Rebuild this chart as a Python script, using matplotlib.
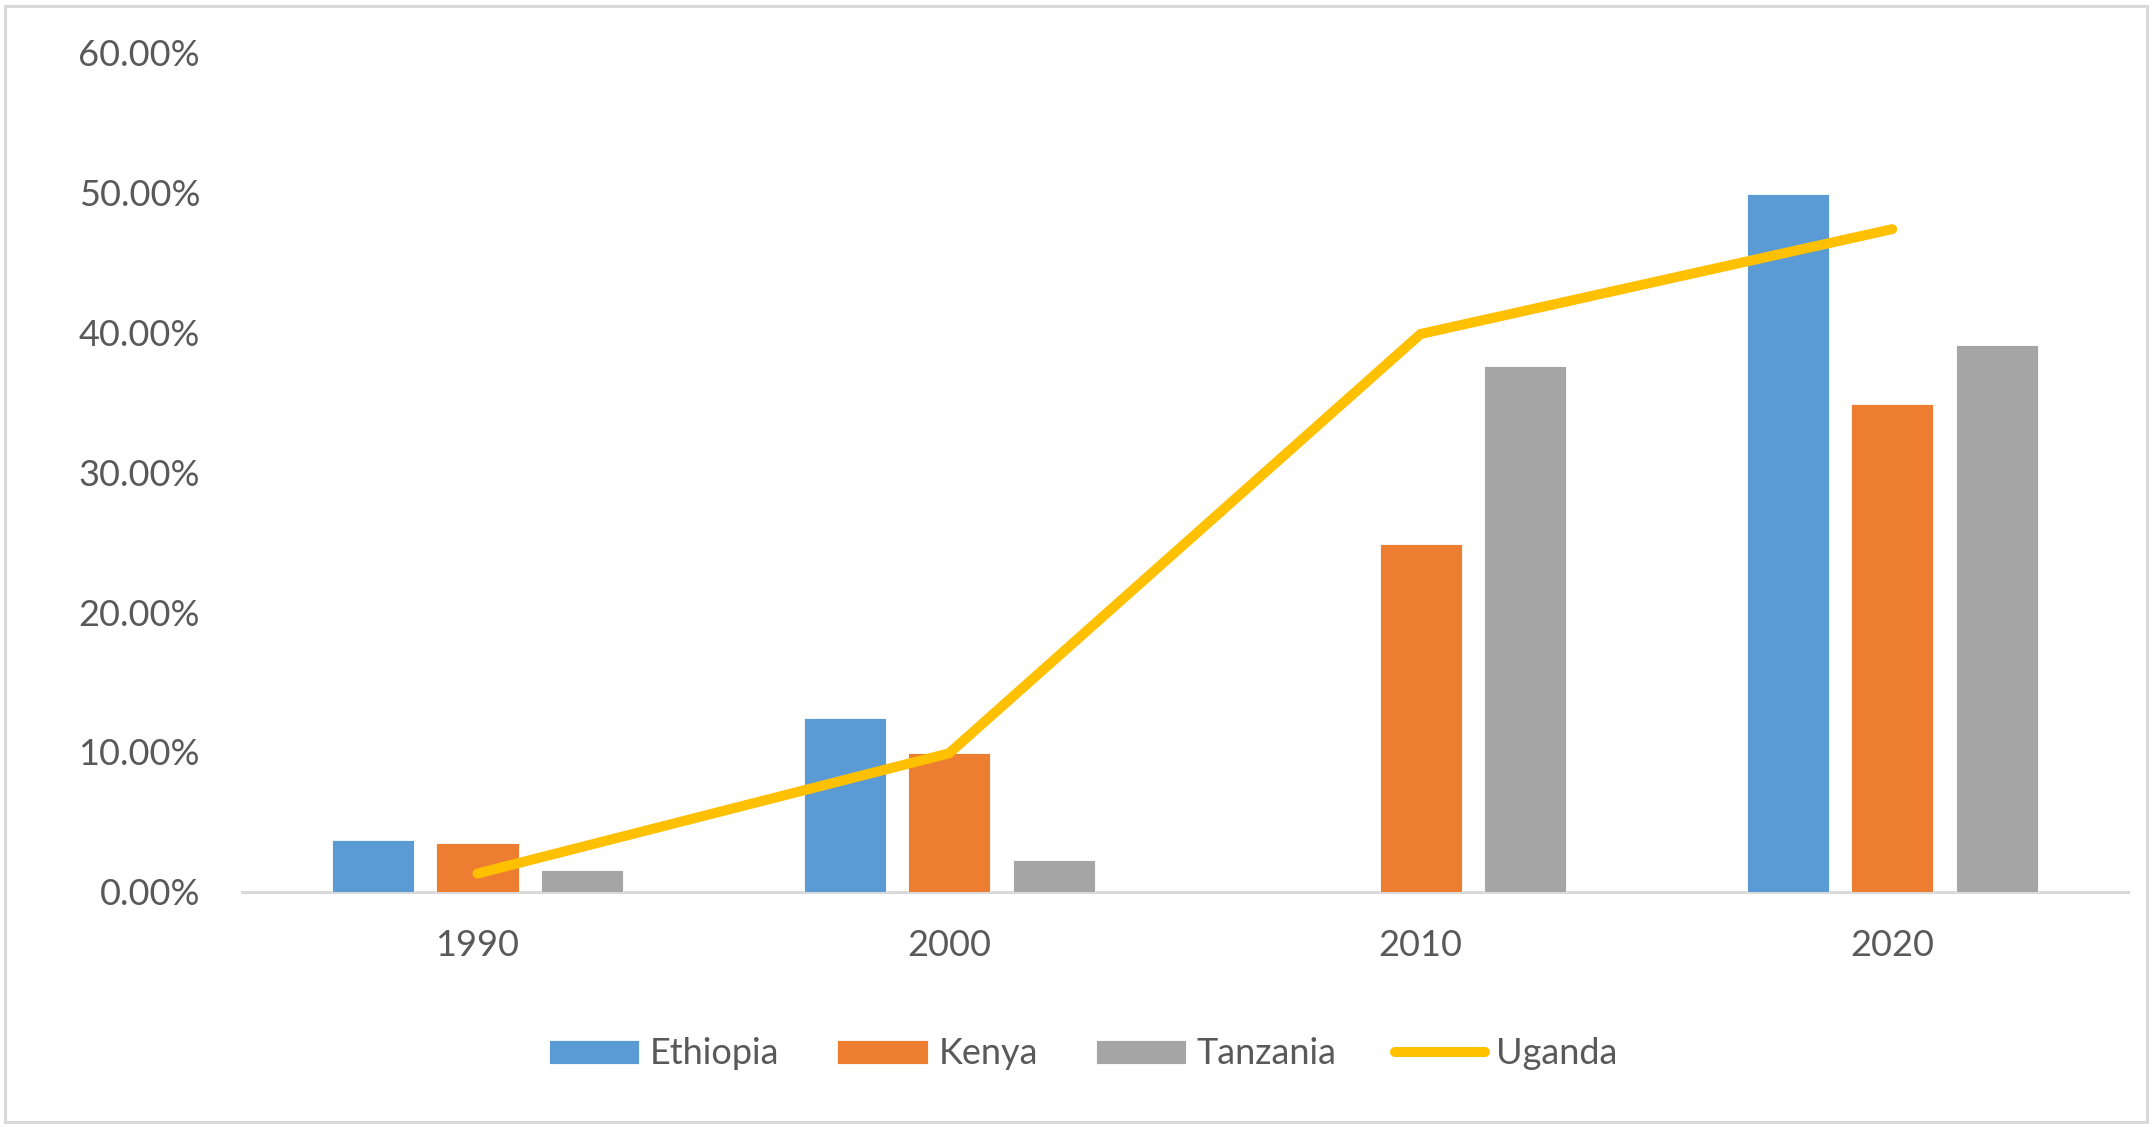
import matplotlib
matplotlib.use("Agg")
import matplotlib.pyplot as plt
from matplotlib.patches import Rectangle
from matplotlib.ticker import FuncFormatter, MultipleLocator
import numpy as np

years = ["1990", "2000", "2010", "2020"]
ethiopia = [0.037, 0.124, 0.0, 0.499]
kenya = [0.0346, 0.0992, 0.249, 0.349]
tanzania = [0.0153, 0.0225, 0.376, 0.391]
uganda = [0.013, 0.099, 0.399, 0.474]

bar_series = [("Ethiopia", ethiopia, "#5B9BD5"),
              ("Kenya", kenya, "#ED7D31"),
              ("Tanzania", tanzania, "#A5A5A5")]
line_name, line_color = "Uganda", "#FFC000"

plt.rcParams['font.family'] = ['Lato', 'DejaVu Sans']
text_color = "#595959"

W, H = 2154, 1127
fig = plt.figure(figsize=(W / 100, H / 100), dpi=100)
ax = fig.add_axes([241.7 / W, 1 - 891.7 / H, (2128 - 241.7) / W, (891.7 - 53) / H])

x = np.arange(len(years))
bw = 0.174
off = 0.2216
handles = []
for i, (name, vals, col) in enumerate(bar_series):
    h = ax.bar(x + (i - 1) * off, vals, width=bw, color=col, label=name, zorder=2,
               edgecolor="white", linewidth=0.6)
    handles.append(h)
ln, = ax.plot(x, uganda, color=line_color, linewidth=7.2, solid_capstyle='round',
              solid_joinstyle='miter', label=line_name, zorder=3)
handles.append(ln)

ax.set_xlim(-0.5, 3.5)
ax.set_ylim(0, 0.6)
ax.yaxis.set_major_locator(MultipleLocator(0.1))
ax.yaxis.set_major_formatter(FuncFormatter(lambda v, p: f"{v*100:.2f}%"))
ax.set_xticks(x)
ax.set_xticklabels(years)
ax.tick_params(axis='both', length=0, labelsize=26, labelcolor=text_color)
ax.tick_params(axis='y', pad=30)
ax.tick_params(axis='x', pad=27)
for s in ['top', 'right', 'left']:
    ax.spines[s].set_visible(False)
ax.spines['bottom'].set_color("#D9D9D9")
ax.spines['bottom'].set_linewidth(2.2)
ax.spines['bottom'].set_zorder(1)

leg = fig.legend(handles=handles, labels=[h.get_label() for h in handles],
                 loc='center', bbox_to_anchor=(1083 / W, 1 - 1054 / H), ncol=4,
                 frameon=False, fontsize=26, handlelength=2.5, handleheight=0.66,
                 handletextpad=0.3, columnspacing=1.6, labelcolor=text_color)

fig.patches.append(Rectangle((5 / W, 5 / H), (2147 - 5) / W, (1121 - 5) / H,
                             transform=fig.transFigure, fill=False,
                             edgecolor="#D9D9D9", linewidth=2.2))

fig.savefig("out.png", dpi=100, facecolor="white")
